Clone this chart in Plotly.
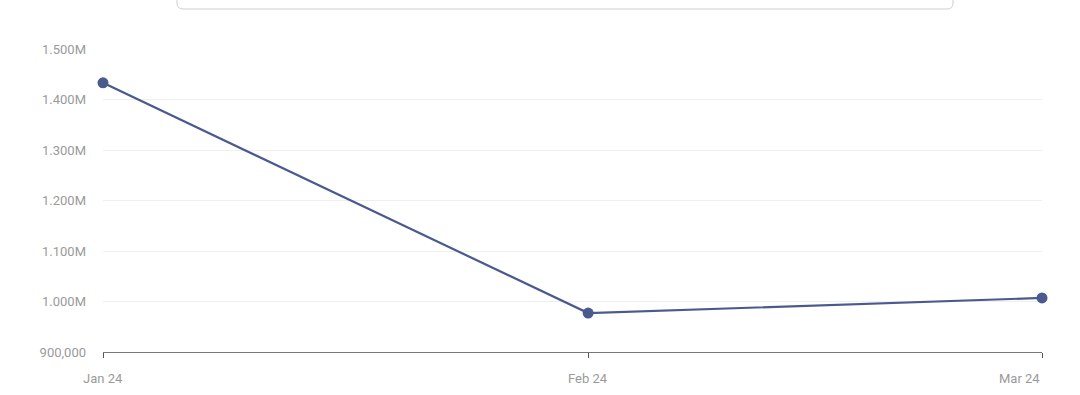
import plotly.graph_objects as go

dates = ["2024-01-01", "2024-02-01", "2024-03-01"]
month_labels = ["Jan 24", "Feb 24", "Mar 24"]
values = [1433000, 977000, 1007000]
y_ticks = [900000, 1000000, 1100000, 1200000, 1300000, 1400000, 1500000]
y_tick_labels = ["900,000", "1.000M", "1.100M", "1.200M", "1.300M", "1.400M", "1.500M"]

W, H = 1080, 395
ml, mr, mt, mb = 103, 38, 49, 43
pw, ph = W - ml - mr, H - mt - mb

def px_x(x):
    return (x - ml) / pw

def px_y(y):
    return (H - mb - y) / ph

fig = go.Figure()
fig.add_trace(go.Scatter(
    x=dates, y=values, mode="lines+markers",
    line=dict(color="#4b5a8e", width=2.2),
    marker=dict(color="#4b5a8e", size=11),
    cliponaxis=False, showlegend=False,
))

# x tick labels (first/middle centred, last right-aligned as in the original)
for i, (d, lab) in enumerate(zip(dates, month_labels)):
    anchor = "right" if i == len(dates) - 1 else "center"
    fig.add_annotation(x=d, y=0, xref="x", yref="paper", yshift=-26,
                       text=lab, showarrow=False, xanchor=anchor, yanchor="middle",
                       font=dict(size=13, color="#9a9a9a"))

# rounded box at top (legend container)
x0, x1 = px_x(177), px_x(953)
y0, y1 = px_y(-6), px_y(9)
rx, ry = 6 / pw, 6 / ph
path = (f"M {x0},{y0} L {x0},{y1+ry} Q {x0},{y1} {x0+rx},{y1} "
        f"L {x1-rx},{y1} Q {x1},{y1} {x1},{y1+ry} L {x1},{y0}")
fig.add_shape(type="path", xref="paper", yref="paper", path=path,
              line=dict(color="#cfcfcf", width=1), layer="above")

fig.update_layout(
    width=W, height=H,
    margin=dict(l=ml, r=mr, t=mt, b=mb),
    paper_bgcolor="white", plot_bgcolor="white",
    font=dict(family="Roboto, Arial, sans-serif", size=13, color="#9a9a9a"),
    xaxis=dict(
        type="date", range=[dates[0], dates[-1]], showgrid=False,
        tickvals=dates, ticktext=["", "", ""],
        showline=True, linecolor="#777777", linewidth=1,
        ticks="outside", ticklen=5, tickcolor="#555555",
    ),
    yaxis=dict(
        range=[900000, 1500000], tickvals=y_ticks, ticktext=y_tick_labels,
        showgrid=True, gridcolor="#efefef", gridwidth=1,
        zeroline=False, showline=False,
        tickfont=dict(size=13, color="#9a9a9a"),
        ticklabelstandoff=16,
    ),
)

fig.write_html("out.html")
